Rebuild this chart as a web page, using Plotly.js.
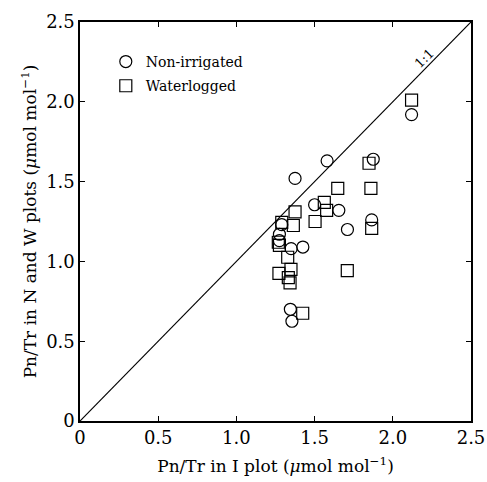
<!DOCTYPE html>
<html><head><meta charset="utf-8">
<script src="https://cdn.plot.ly/plotly-3.0.1.min.js"></script>
<style>body{margin:0;background:#fff}#chart{width:487px;height:482px}</style>
</head><body><div id="chart"></div>
<script>
const nonIrrX = [1.58, 1.375, 1.875, 1.50, 1.655, 1.71, 1.865, 1.275, 1.35, 1.425, 1.345, 1.355, 2.12, 1.275, 1.29];
const nonIrrY = [1.63, 1.52, 1.64, 1.355, 1.32, 1.20, 1.26, 1.17, 1.08, 1.09, 0.70, 0.625, 1.92, 1.13, 1.23];
const waterX = [1.848, 1.648, 1.86, 1.375, 1.562, 1.577, 1.503, 1.29, 1.364, 1.865, 1.268, 1.328, 1.349, 1.272, 1.332, 1.343, 1.709, 1.424, 2.12, 1.275];
const waterY = [1.615, 1.458, 1.458, 1.31, 1.37, 1.32, 1.25, 1.245, 1.225, 1.207, 1.12, 1.026, 0.95, 0.925, 0.898, 0.866, 0.942, 0.675, 2.01, 1.10];
const oneToOneX = [0, 2.5];
const oneToOneY = [0, 2.5];
const tickVals = [0, 0.5, 1.0, 1.5, 2.0, 2.5];
const tickText = ['0', '0.5', '1.0', '1.5', '2.0', '2.5'];

const font = 'DejaVu Serif, Liberation Serif, serif';
const traces = [
  {x: oneToOneX, y: oneToOneY, mode: 'lines', line: {color: '#000', width: 1.2}, showlegend: false, hoverinfo: 'skip'},
  {x: nonIrrX, y: nonIrrY, mode: 'markers', name: 'Non-irrigated', legendgroup: 'a',
   marker: {symbol: 'circle-open', size: 12, color: '#000', line: {width: 1.2, color: '#000'}}},
  {x: waterX, y: waterY, mode: 'markers', name: 'Waterlogged', legendgroup: 'b',
   marker: {symbol: 'square-open', size: 12, color: '#000', line: {width: 1.2, color: '#000'}}}
];
const axisCommon = {
  range: [0, 2.5], tickvals: tickVals, ticktext: tickText, ticks: 'inside', ticklen: 5,
  tickcolor: '#000', tickwidth: 1.2, showline: true, linecolor: '#000', linewidth: 1.6,
  mirror: 'ticks', showgrid: false, zeroline: false, tickfont: {family: font, size: 18, color: '#000'}
};
const layout = {
  width: 487, height: 482,
  margin: {l: 80, r: 16, t: 22, b: 61},
  paper_bgcolor: '#fff', plot_bgcolor: '#fff',
  font: {family: font, color: '#000'},
  xaxis: Object.assign({}, axisCommon, {title: {text: 'Pn/Tr in I plot (<i>\u03bc</i>mol mol<sup>\u22121</sup>)', font: {family: font, size: 17}, standoff: 13}}),
  yaxis: Object.assign({}, axisCommon, {title: {text: 'Pn/Tr in N and W plots (<i>\u03bc</i>mol mol<sup>\u22121</sup>)', font: {family: font, size: 17}, standoff: 5}}),
  legend: {x: 0.066, y: 0.94, xanchor: 'left', yanchor: 'top', bgcolor: 'rgba(0,0,0,0)',
           font: {family: font, size: 14, color: '#000'}, itemwidth: 30, traceorder: 'grouped', tracegroupgap: 3},
  annotations: [{x: 2.2, y: 2.27, xref: 'x', yref: 'y', text: '1:1', showarrow: false, textangle: -45,
                 font: {family: font, size: 13, color: '#000'}}]
};
Plotly.newPlot('chart', traces, layout, {displayModeBar: false, staticPlot: true});
</script></body></html>
